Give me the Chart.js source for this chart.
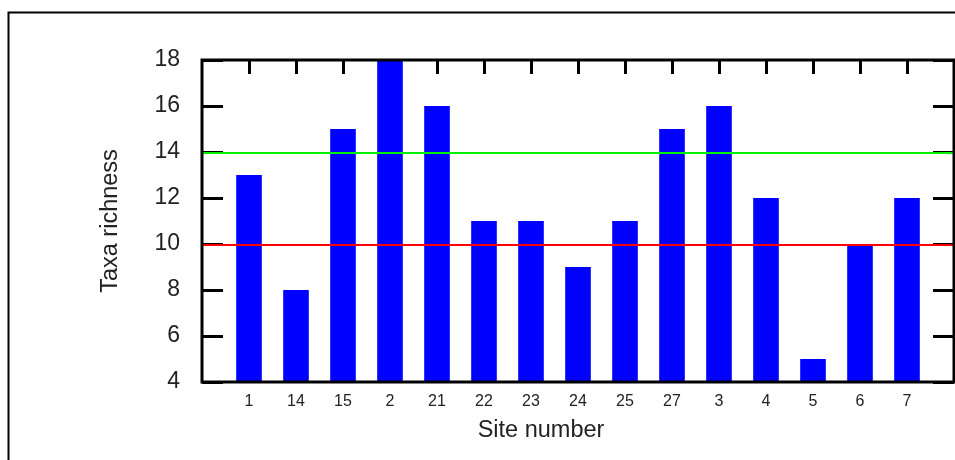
<!DOCTYPE html>
<html><head><meta charset="utf-8">
<script src="https://cdn.jsdelivr.net/npm/chart.js@4"></script>
<style>html,body{margin:0;padding:0;background:#fff}#wrap{width:955px;height:460px}</style>
</head><body><div id="wrap"><canvas id="c" width="955" height="460"></canvas></div>
<script>
const sites = ['1','14','15','2','21','22','23','24','25','27','3','4','5','6','7'];
const taxaRichness = [13,8,15,18,16,11,11,9,11,15,16,12,5,10,12];
const yTicks = [4,6,8,10,12,14,16,18];
const upperReference = 14;
const lowerReference = 10;
const xTitle = 'Site number';
const yTitle = 'Taxa richness';

const labels = [''].concat(sites, ['']);
const values = [null].concat(taxaRichness, [null]);
const FONT = '"Liberation Sans", Arial, sans-serif';
const TEXT = '#222';

const framePlugin = {
  id: 'frame',
  beforeDraw(chart) {
    const ctx = chart.ctx;
    ctx.save();
    ctx.fillStyle = '#fff';
    ctx.fillRect(0, 0, chart.width, chart.height);
    ctx.strokeStyle = '#000';
    ctx.lineWidth = 2;
    ctx.strokeRect(8.5, 12.5, 3000, 3000);
    ctx.restore();
  },
  beforeDatasetsDraw(chart) {
    const {ctx, chartArea: a, scales: {x, y}} = chart;
    ctx.save();
    ctx.strokeStyle = '#000';
    ctx.lineWidth = 3;
    ctx.beginPath();
    y.ticks.forEach((t, i) => {
      const py = Math.round(y.getPixelForTick(i)) + 0.5;
      ctx.moveTo(a.left, py); ctx.lineTo(a.left + 21, py);
      ctx.moveTo(a.right, py); ctx.lineTo(a.right - 21, py);
    });
    sites.forEach((s, i) => {
      const px = Math.round(x.getPixelForValue(i + 1)) + 0.5;
      ctx.moveTo(px, a.top); ctx.lineTo(px, a.top + 14);
      ctx.moveTo(px, a.bottom); ctx.lineTo(px, a.bottom - 14);
    });
    ctx.stroke();
    ctx.restore();
  },
  afterDatasetsDraw(chart) {
    const {ctx, chartArea: a, scales: {y}} = chart;
    ctx.save();
    ctx.lineWidth = 2;
    [[upperReference, '#00f000'], [lowerReference, '#ff0000']].forEach(([v, c]) => {
      const py = Math.round(y.getPixelForValue(v)) + 1;
      ctx.strokeStyle = c;
      ctx.beginPath();
      ctx.moveTo(a.left, py);
      ctx.lineTo(a.right, py);
      ctx.stroke();
    });
    ctx.strokeStyle = '#000';
    ctx.lineWidth = 3;
    ctx.strokeRect(a.left, a.top, a.right - a.left, a.bottom - a.top);
    ctx.fillStyle = TEXT;
    ctx.font = '23.5px ' + FONT;
    ctx.textAlign = 'center';
    ctx.textBaseline = 'alphabetic';
    ctx.fillText(xTitle, 541, 437);
    ctx.restore();
  }
};

new Chart(document.getElementById('c'), {
  type: 'bar',
  data: {
    labels: labels,
    datasets: [{
      data: values,
      backgroundColor: '#0000ff',
      borderWidth: 0,
      barPercentage: 0.545,
      categoryPercentage: 1
    }]
  },
  options: {
    responsive: false,
    devicePixelRatio: 1,
    animation: false,
    layout: {padding: {top: 60, right: 1, left: 0, bottom: 0}},
    plugins: {legend: {display: false}, tooltip: {enabled: false}},
    scales: {
      x: {
        type: 'category',
        offset: false,
        grid: {display: false, drawTicks: false},
        border: {display: false},
        ticks: {autoSkip: false, maxRotation: 0, minRotation: 0, padding: 10, color: TEXT, font: {family: FONT, size: 16}},
        afterFit(s) { s.height = 78; s.paddingLeft = 0; s.paddingRight = 0; }
      },
      y: {
        min: 4, max: 18,
        grid: {display: false, drawTicks: false},
        border: {display: false},
        ticks: {stepSize: 2, padding: 22, color: TEXT, font: {family: FONT, size: 23}},
        afterBuildTicks(s) { s.ticks = yTicks.map(v => ({value: v})); },
        title: {display: true, text: yTitle, color: TEXT, font: {family: FONT, size: 23.5}, padding: {top: 96, bottom: 0}},
        afterFit(s) { s.width = 202; s.paddingTop = 0; s.paddingBottom = 0; }
      }
    }
  },
  plugins: [framePlugin]
});
</script>
</body></html>
